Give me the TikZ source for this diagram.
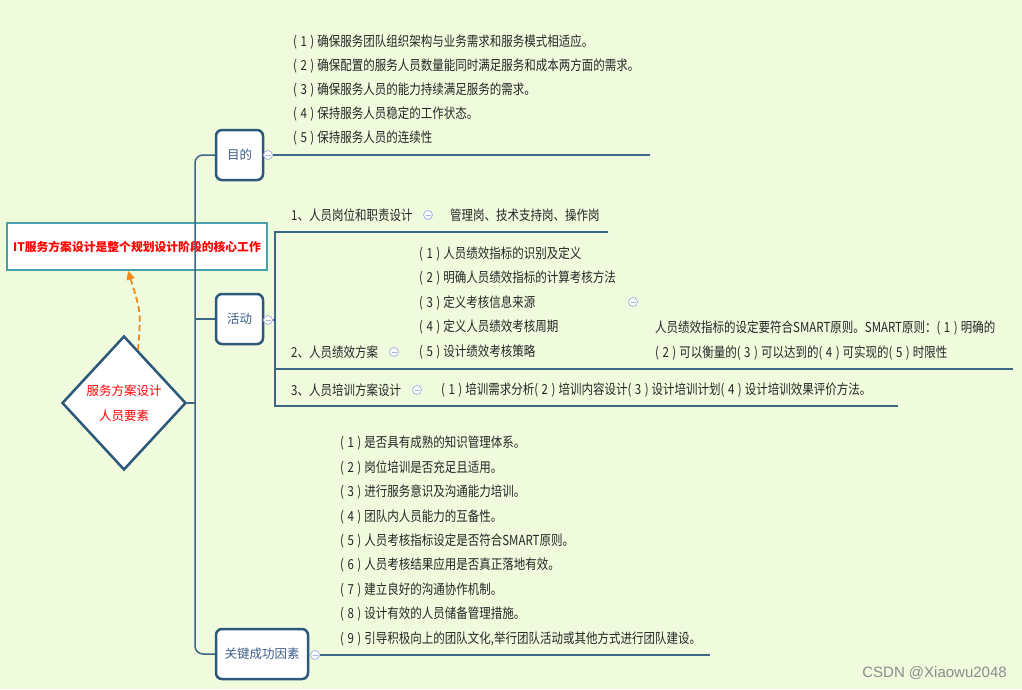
\documentclass[tikz,border=0pt]{standalone}
\usepackage{fontspec}
\setmainfont{Noto Sans CJK SC}
\newfontfamily\wmfont{Liberation Sans}
\usetikzlibrary{shapes.geometric, arrows.meta}

\definecolor{bgcol}{HTML}{F0FBDE}
\definecolor{linecol}{HTML}{3E6686}
\definecolor{boxcol}{HTML}{2C587A}
\definecolor{boxtext}{HTML}{3F5F88}
\definecolor{notecol}{HTML}{46A2A8}
\definecolor{arrowcol}{HTML}{EC8B1C}
\definecolor{foldcol}{HTML}{A9B3E2}
\definecolor{textcol}{HTML}{262626}

\newcommand\pn[1]{(\kern3.5pt#1\kern3.5pt)\kern3pt}

\tikzset{
  topic/.style={draw=boxcol, line width=2.5pt, rounded corners=6pt, fill=white,
    text=boxtext, minimum height=50pt, inner sep=0pt, font=\fontsize{12.5}{14}\selectfont},
  item/.style={anchor=west, inner sep=0pt, text=textcol, font=\fontsize{11.5}{14}\selectfont,
    yscale=1.2, transform shape},
  branch/.style={draw=linecol, line width=1.5pt},
  underline/.style={draw=linecol, line width=1.8pt},
  fold/.style={circle, draw=foldcol, fill=white, line width=0.8pt, minimum size=9pt, inner sep=0pt,
    path picture={\draw[foldcol, line width=0.9pt]
      ([xshift=-2.5pt]path picture bounding box.center) -- ([xshift=2.5pt]path picture bounding box.center);}},
}

\begin{document}
\begin{tikzpicture}[x=1pt, y=-1pt]
  \fill[bgcol] (0, 0) rectangle (1022, 689);

  % root and note
  \node[diamond, draw=boxcol, line width=2.5pt, fill=white, minimum width=124pt, minimum height=134pt,
    inner sep=0pt, align=center, text=red, font=\fontsize{12.5}{25}\selectfont] (root) at (124, 403)
    {服务方案设计\\人员要素};
  \node[draw=notecol, line width=1.3pt, fill=white, minimum width=260pt, minimum height=47pt,
    inner sep=0pt, text=red, font=\bfseries\fontsize{11.8}{14}\selectfont] (note) at (137, 246.5)
    {IT服务方案设计是整个规划设计阶段的核心工作};
  \coordinate (tail) at (138, 350);
  \draw[arrowcol, line width=1.8pt, dash pattern=on 6pt off 3.5pt, -{Triangle[length=9pt, width=8pt]}]
    (tail) .. controls (141, 312) .. ([xshift=-9pt]note.south);

  % main topics
  \node[topic, minimum width=47pt] (mudi) at (239.5, 155) {目的};
  \node[topic, minimum width=47pt] (huodong) at (239.5, 319) {活动};
  \node[topic, minimum width=92pt] (gjcs) at (262, 654) {关键成功因素};
  \coordinate (trunk) at (195, 403);
  \draw[branch, rounded corners=8pt] (mudi.west) -| (trunk) |- (gjcs.west);
  \draw[branch] (root.east) -- (trunk);
  \draw[branch] (huodong.west) -- (huodong.west -| trunk);

  % 目的
  \node[fold] (f-mudi) at (268, 155) {};
  \coordinate (e-mudi) at (650, 155);
  \draw[underline] (f-mudi.east) -- (e-mudi);
  \foreach \t [count=\i] in {
    {\pn{1}确保服务团队组织架构与业务需求和服务模式相适应。},
    {\pn{2}确保配置的服务人员数量能同时满足服务和成本两方面的需求。},
    {\pn{3}确保服务人员的能力持续满足服务的需求。},
    {\pn{4}保持服务人员稳定的工作状态。},
    {\pn{5}保持服务人员的连续性}}
    \node[item] (mudi-\i) at (293, 18 + 24*\i) {\t};

  % 活动
  \node[fold] (f-huodong) at (268, 320) {};
  \coordinate (b1) at (275, 232);
  \coordinate (e1) at (608, 232);
  \coordinate (b2) at (275, 369);
  \coordinate (e2) at (1013, 369);
  \coordinate (b3) at (275, 406);
  \coordinate (e3) at (898, 406);
  \draw[underline] (e1) -- (b1) -- (b3) -- (e3);
  \draw[underline] (b2) -- (e2);
  \draw[branch] (f-huodong.east) -- (f-huodong.east -| b1);

  \node[item] (gw) at (291, 215) {1、人员岗位和职责设计};
  \node[fold] (f-gw) at (428, 215) {};
  \node[item] (gw-sub) at (450, 215) {管理岗、技术支持岗、操作岗};

  \node[item] (jx) at (291, 352) {2、人员绩效方案};
  \node[fold] (f-jx) at (394, 352) {};
  \foreach \t [count=\i] in {
    {\pn{1}人员绩效指标的识别及定义},
    {\pn{2}明确人员绩效指标的计算考核方法},
    {\pn{3}定义考核信息来源},
    {\pn{4}定义人员绩效考核周期},
    {\pn{5}设计绩效考核策略}}
    \node[item] (jx-\i) at (419, 229 + 24.6*\i) {\t};
  \node[fold] (f-jxsub) at (633, 302) {};
  \node[item] (smart-1) at (655, 328) {人员绩效指标的设定要符合SMART原则。SMART原则：\pn{1}明确的};
  \node[item] (smart-2) at (655, 353) {\pn{2}可以衡量的\pn{3}可以达到的\pn{4}可实现的\pn{5}时限性};

  \node[item] (px) at (291, 390) {3、人员培训方案设计};
  \node[fold] (f-px) at (417, 390) {};
  \node[item] (px-sub) at (441, 390)
    {\pn{1}培训需求分析\pn{2}培训内容设计\pn{3}设计培训计划\pn{4}设计培训效果评价方法。};

  % 关键成功因素
  \node[fold] (f-gjcs) at (315, 655) {};
  \coordinate (e-gjcs) at (710, 655);
  \draw[underline] (f-gjcs.east) -- (e-gjcs);
  \foreach \t [count=\i] in {
    {\pn{1}是否具有成熟的知识管理体系。},
    {\pn{2}岗位培训是否充足且适用。},
    {\pn{3}进行服务意识及沟通能力培训。},
    {\pn{4}团队内人员能力的互备性。},
    {\pn{5}人员考核指标设定是否符合SMART原则。},
    {\pn{6}人员考核结果应用是否真正落地有效。},
    {\pn{7}建立良好的沟通协作机制。},
    {\pn{8}设计有效的人员储备管理措施。},
    {\pn{9}引导积极向上的团队文化,举行团队活动或其他方式进行团队建设。}}
    \node[item] (gjcs-\i) at (340, 419 + 24.4*\i) {\t};

  \node[anchor=east, inner sep=0pt, text=black!45, font=\wmfont\fontsize{15}{17}\selectfont]
    (mark) at (1007, 673) {CSDN @Xiaowu2048};
\end{tikzpicture}
\end{document}
